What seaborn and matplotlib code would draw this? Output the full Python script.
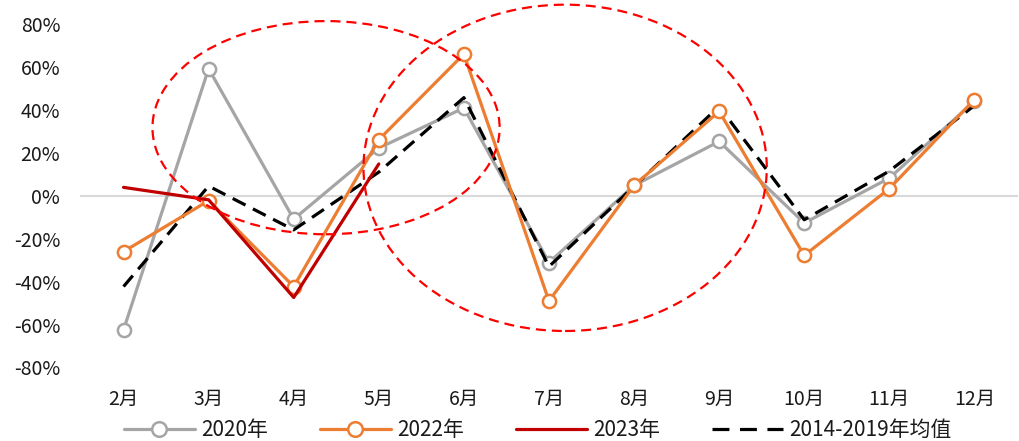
import numpy as np
import pandas as pd
import matplotlib
matplotlib.use("Agg")
import matplotlib.pyplot as plt
from matplotlib.patches import Ellipse
from matplotlib.lines import Line2D
from matplotlib.ticker import FixedLocator, FuncFormatter
import seaborn as sns

# Month-over-month change (%) by month
months = ["2月", "3月", "4月", "5月", "6月", "7月", "8月", "9月", "10月", "11月", "12月"]
y2020 = [-62.5, 59.2, -10.9, 22.2, 40.9, -31.1, 4.8, 25.3, -12.7, 8.2, 44.0]
y2022 = [-26.0, -2.3, -42.3, 26.1, 66.0, -49.0, 4.8, 39.3, -27.8, 3.3, 44.8]
y2023 = [3.9, -1.9, -47.4, 14.8]
avg_2014_2019 = [-42.3, 4.5, -15.9, 11.0, 45.7, -33.0, 4.4, 41.6, -11.2, 11.5, 42.0]

sns.set_theme(style="white")
plt.rcParams["font.family"] = ["Noto Sans CJK SC", "DejaVu Sans"]
plt.rcParams["axes.unicode_minus"] = False

GRAY = "#A5A5A5"
ORANGE = "#ED7D31"
DARKRED = "#C00000"
TEXT = "#1a1a1a"

fig = plt.figure(figsize=(10.2, 4.41), dpi=100)
ax = fig.add_axes([0.0794, 0.1667, 0.9176, 0.7789])

x_all = np.arange(len(months))
df2020 = pd.DataFrame({"x": x_all, "v": y2020})
df2022 = pd.DataFrame({"x": x_all, "v": y2022})
df2023 = pd.DataFrame({"x": x_all[:len(y2023)], "v": y2023})
dfavg = pd.DataFrame({"x": x_all, "v": avg_2014_2019})

mk = dict(marker="o", markersize=9.5, markerfacecolor="white", markeredgewidth=1.8)
sns.lineplot(data=df2020, x="x", y="v", ax=ax, color=GRAY, lw=2.3,
             markeredgecolor=GRAY, zorder=3, **mk)
sns.lineplot(data=dfavg, x="x", y="v", ax=ax, color="black", lw=2.3,
             dashes=False, zorder=4).lines[-1].set_dashes((4.5, 2.6))
sns.lineplot(data=df2022, x="x", y="v", ax=ax, color=ORANGE, lw=2.3,
             markeredgecolor=ORANGE, zorder=5, **mk)
sns.lineplot(data=df2023, x="x", y="v", ax=ax, color=DARKRED, lw=2.3, zorder=6)

# Highlight ellipses
for cx, cy, w, h in [(2.38, 31.7, 4.08, 99.3), (5.19, 13.0, 4.74, 152.0)]:
    ax.add_patch(Ellipse((cx, cy), w, h, fill=False, edgecolor="#FF0000",
                         lw=1.6, ls=(0, (4.5, 2.7)), clip_on=False, zorder=7))

ax.set_xlim(-0.5, len(months) - 0.5)
ax.set_ylim(-80, 80)
ax.set_yticks(np.arange(-80, 81, 20))
ax.yaxis.set_major_formatter(FuncFormatter(lambda v, p: f"{int(v)}%"))
ax.tick_params(axis="y", length=0, labelsize=14, pad=15, colors=TEXT)

# Category axis sits on the zero line, labels pushed to the bottom
for s in ["top", "right", "left"]:
    ax.spines[s].set_visible(False)
ax.spines["bottom"].set_position(("data", 0))
ax.spines["bottom"].set_color("#D9D9D9")
ax.spines["bottom"].set_linewidth(1.5)
ax.set_xticks(x_all)
ax.set_xticklabels(months)
ax.xaxis.set_minor_locator(FixedLocator(np.arange(-0.5, len(months), 1)))
ax.tick_params(axis="x", which="major", length=0, labelsize=14, pad=139, colors=TEXT)
ax.tick_params(axis="x", which="minor", length=4.5, width=1.5, color="#D9D9D9", direction="out")
ax.set_xlabel("")
ax.set_ylabel("")
ax.grid(False)

mk_leg = dict(mk, markersize=10.5)
handles = [
    Line2D([], [], color=GRAY, lw=2.3, markeredgecolor=GRAY, **mk_leg),
    Line2D([], [], color=ORANGE, lw=2.3, markeredgecolor=ORANGE, **mk_leg),
    Line2D([], [], color=DARKRED, lw=2.3),
    Line2D([], [], color="black", lw=2.3, dashes=(5.3, 3.3)),
]
labels = ["2020年", "2022年", "2023年", "2014-2019年均值"]
fig.legend(handles, labels, loc="center", bbox_to_anchor=(0.527, 0.024), ncol=4,
           frameon=False, fontsize=15, handlelength=3.4, columnspacing=2.5,
           handletextpad=0.3, labelcolor=TEXT, borderpad=0)

fig.savefig("out.png", dpi=100)
